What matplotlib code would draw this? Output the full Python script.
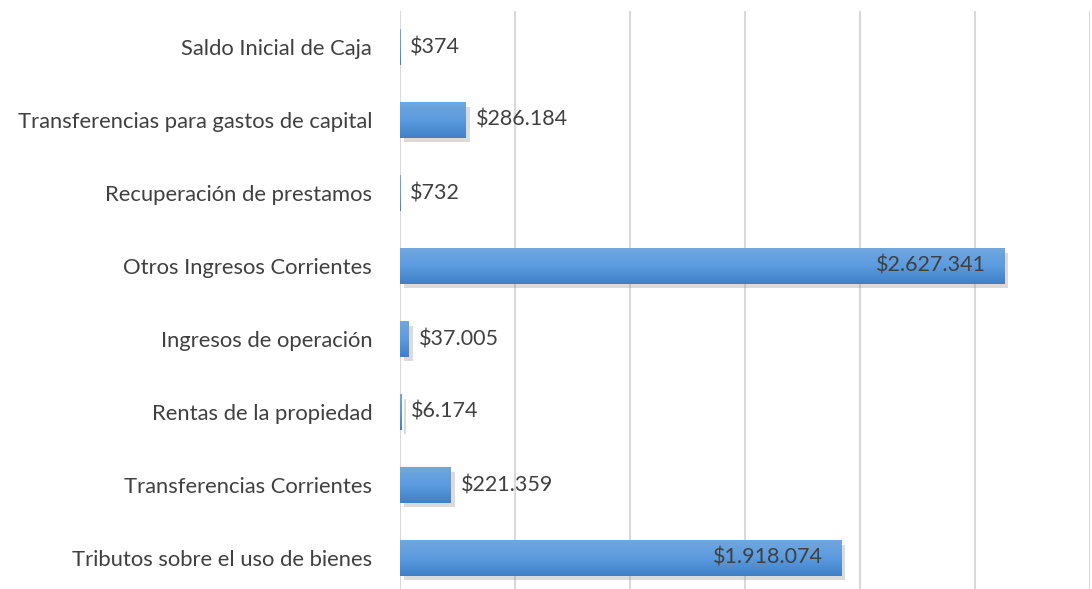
import numpy as np
import matplotlib
matplotlib.use('Agg')
import matplotlib.pyplot as plt
import matplotlib.patheffects as pe
from matplotlib.colors import LinearSegmentedColormap

# Data (bottom to top)
categorias = ['Tributos sobre el uso de bienes', 'Transferencias Corrientes',
              'Rentas de la propiedad', 'Ingresos de operación',
              'Otros Ingresos Corrientes', 'Recuperación de prestamos',
              'Transferencias para gastos de capital', 'Saldo Inicial de Caja']
valores = [1918074, 221359, 6174, 37005, 2627341, 732, 286184, 374]
etiquetas = ['$1.918.074', '$221.359', '$6.174', '$37.005',
             '$2.627.341', '$732', '$286.184', '$374']

plt.rcParams['font.family'] = ['Lato', 'DejaVu Sans']

fig = plt.figure(figsize=(10.92, 5.89), dpi=100)
ax = fig.add_axes([400 / 1092, -5.5 / 589, 690 / 1092, 584 / 589])

y = np.arange(len(categorias))
h = 0.48
cmap = LinearSegmentedColormap.from_list('azul', ['#3f80c6', '#5b9be0', '#70a7de'])
grad = np.linspace(0, 1, 64).reshape(-1, 1)

bars = ax.barh(y, valores, height=h, color='#4f8fd6', linewidth=0, zorder=2,
               path_effects=[pe.SimplePatchShadow(offset=(3, -3), shadow_rgbFace='#8a8a8a', alpha=0.3),
                             pe.Normal()])
for b in bars:
    x0, y0, w, hh = b.get_x(), b.get_y(), b.get_width(), b.get_height()
    if w > 0:
        ax.imshow(grad, extent=[x0, x0 + w, y0, y0 + hh], origin='lower',
                  aspect='auto', cmap=cmap, zorder=3, interpolation='bicubic')

for yi, v, t in zip(y, valores, etiquetas):
    if v > 1000000:
        ax.annotate(t, (v, yi), xytext=(-18, 0), textcoords='offset pixels',
                    ha='right', va='center', fontsize=15.5, color='#404040', zorder=4)
    else:
        ax.annotate(t, (v, yi), xytext=(10, 0), textcoords='offset pixels',
                    ha='left', va='center', fontsize=15.5, color='#404040', zorder=4)

ax.set_xlim(0, 3000000)
ax.set_ylim(-0.5, len(categorias) - 0.5)
ax.set_xticks(np.arange(0, 3000001, 500000))
ax.tick_params(axis='x', length=0, labelbottom=False)
ax.tick_params(axis='y', length=0, pad=20, labelsize=15.8, labelcolor='#404040')
ax.set_yticks(y)
ax.set_yticklabels(categorias)
ax.grid(axis='x', color='#d9d9d9', linewidth=1.5, zorder=0)
ax.set_axisbelow(True)
for s in ax.spines.values():
    s.set_visible(False)

plt.savefig('out.png', dpi=100)
